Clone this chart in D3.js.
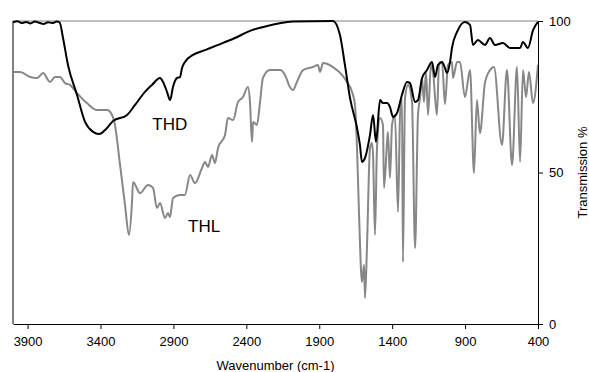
<!DOCTYPE html>
<html>
<head>
<meta charset="utf-8">
<script src="https://cdn.jsdelivr.net/npm/d3@7"></script>
<style>
  html, body { margin: 0; padding: 0; background: #fff; }
  svg { display: block; font-family: "Liberation Sans", Arial, sans-serif; }
</style>
</head>
<body>
<div id="chart"></div>
<script>
// wavenumber (cm-1) / transmission (%)
const thdWave = [4000, 3970, 3940, 3910, 3880, 3850, 3820, 3790, 3760, 3730, 3700, 3680,
  3657, 3623, 3561, 3506, 3451, 3410, 3355, 3314, 3218, 3163, 3095, 3047, 2992, 2971, 2944,
  2923, 2903, 2875, 2855, 2841, 2821, 2766, 2683, 2594, 2478, 2361, 2286, 2080, 1806, 1758,
  1724, 1689, 1641, 1621, 1607, 1586, 1552, 1531, 1511, 1483, 1463, 1435, 1415, 1394, 1367,
  1333, 1298, 1278, 1243, 1223, 1195, 1161, 1127, 1106, 1086, 1058, 1038, 1024, 1003, 990,
  955, 901, 866, 846, 812, 764, 729, 695, 640, 592, 523, 503, 469, 434, 400];
const thdTrans = [99.6, 99.9, 99.3, 99.7, 99.2, 99.8, 99.4, 99.0, 99.6, 99.3, 99.8, 99.5,
  94.4, 85.5, 75.6, 66.7, 63.4, 62.7, 64.7, 67.0, 69.0, 72.3, 76.6, 78.9, 81.2, 79.9, 76.6,
  73.9, 78.2, 81.2, 81.5, 84.5, 86.5, 88.8, 90.4, 92.1, 94.4, 97.0, 98.0, 99.8, 100, 95.4,
  85.5, 74.6, 64.7, 59.1, 53.5, 54.8, 62.4, 69.0, 60.1, 73.9, 72.9, 72.9, 71.6, 68.3, 69.6,
  75.6, 79.9, 79.5, 73.3, 73.9, 81.2, 83.8, 86.5, 81.5, 85.5, 86.5, 84.5, 82.8, 86.5, 91.1,
  96.4, 99.7, 98.7, 92.1, 93.7, 92.1, 94.4, 92.1, 92.7, 91.1, 91.1, 93.1, 91.1, 97.0, 99.7];

const thlWave = [4000, 3952, 3883, 3835, 3794, 3746, 3712, 3678, 3643, 3609, 3561, 3493,
  3424, 3355, 3321, 3301, 3266, 3232, 3205, 3184, 3177, 3129, 3074, 3040, 3013, 2992, 2958,
  2937, 2923, 2903, 2855, 2821, 2786, 2752, 2704, 2683, 2663, 2635, 2615, 2594, 2546, 2526,
  2491, 2457, 2423, 2389, 2375, 2361, 2354, 2327, 2306, 2286, 2238, 2169, 2135, 2101, 2080,
  2053, 2011, 1943, 1909, 1895, 1874, 1806, 1744, 1710, 1675, 1655, 1641, 1627, 1607, 1593,
  1586, 1573, 1552, 1538, 1531, 1518, 1504, 1483, 1463, 1456, 1435, 1429, 1415, 1401, 1381,
  1360, 1346, 1333, 1326, 1312, 1291, 1264, 1243, 1223, 1209, 1195, 1182, 1168, 1154, 1134,
  1120, 1093, 1079, 1058, 1038, 1017, 990, 983, 955, 935, 901, 866, 839, 819, 798, 764, 729,
  702, 647, 613, 578, 544, 523, 503, 482, 462, 434, 400];
const thlTrans = [83.2, 83.2, 81.5, 81.2, 82.8, 79.9, 81.5, 81.5, 79.5, 78.9, 76.2, 72.9,
  70.6, 70.6, 69.0, 65.7, 52.5, 39.3, 29.4, 40.3, 46.9, 43.2, 45.9, 44.9, 38.3, 39.9, 35.0,
  36.6, 35.3, 41.6, 42.6, 42.6, 49.2, 46.5, 51.5, 53.5, 51.8, 55.8, 53.1, 58.1, 62.4, 68.0,
  67.3, 73.3, 74.9, 78.2, 73.3, 60.1, 66.7, 65.7, 73.3, 81.2, 83.8, 83.8, 82.2, 78.2, 77.2,
  79.9, 83.8, 84.8, 85.5, 83.2, 86.1, 84.8, 82.2, 79.9, 76.6, 72.3, 58.1, 36.0, 13.9, 19.5,
  8.6, 25.1, 58.1, 59.7, 55.8, 29.4, 58.1, 68.0, 65.7, 44.9, 60.1, 63.4, 48.2, 65.7, 69.0,
  37.0, 69.0, 74.6, 20.5, 74.6, 78.9, 73.3, 25.1, 69.0, 74.6, 81.2, 73.3, 83.2, 69.0, 85.5,
  83.2, 69.0, 85.5, 86.5, 72.6, 85.5, 86.5, 81.2, 86.5, 86.5, 74.9, 83.8, 49.8, 73.9, 63.0, 79.5, 83.8,
  84.8, 59.1, 83.8, 52.5, 84.8, 53.5, 83.8, 74.9, 83.2, 72.9, 85.5];

const xTicks = [3900, 3400, 2900, 2400, 1900, 1400, 900, 400];
const yTicks = [0, 50, 100];
const seriesNames = ['THD', 'THL'];

const width = 589, height = 372;
const margin = { top: 21, right: 51, bottom: 48, left: 13 };

const svg = d3.select('#chart').append('svg')
  .attr('width', width)
  .attr('height', height);

const x = d3.scaleLinear().domain([4000, 400]).range([margin.left, width - margin.right]);
const y = d3.scaleLinear().domain([0, 100]).range([height - margin.bottom, margin.top]);

// frame: top and left
svg.append('line')
  .attr('x1', x(4000)).attr('x2', x(400))
  .attr('y1', y(100)).attr('y2', y(100))
  .attr('stroke', '#808080').attr('stroke-width', 1);
svg.append('line')
  .attr('x1', x(4000)).attr('x2', x(4000))
  .attr('y1', y(100)).attr('y2', y(0))
  .attr('stroke', '#000').attr('stroke-width', 1);

const thd = thdWave.map((w, i) => ({ w: w, t: thdTrans[i] }));
const thl = thlWave.map((w, i) => ({ w: w, t: thlTrans[i] }));

const line = d3.line()
  .x(d => x(d.w))
  .y(d => y(d.t))
  .curve(d3.curveMonotoneX);

svg.append('path')
  .datum(thl)
  .attr('d', line)
  .attr('fill', 'none')
  .attr('stroke', '#878787')
  .attr('stroke-width', 2)
  .attr('stroke-linejoin', 'round');

svg.append('path')
  .datum(thd)
  .attr('d', line)
  .attr('fill', 'none')
  .attr('stroke', '#000')
  .attr('stroke-width', 2)
  .attr('stroke-linejoin', 'round');

// axes
const xAxis = svg.append('g')
  .attr('transform', `translate(0,${y(0)})`)
  .call(d3.axisBottom(x).tickValues(xTicks).tickFormat(d3.format('d'))
    .tickSizeInner(5).tickSizeOuter(0).tickPadding(8));

const yAxis = svg.append('g')
  .attr('transform', `translate(${x(400)},0)`)
  .call(d3.axisRight(y).tickValues(yTicks).tickFormat(d3.format('d'))
    .tickSizeInner(5).tickSizeOuter(0).tickPadding(6));

[xAxis, yAxis].forEach(g => {
  g.select('.domain').attr('stroke', '#000').attr('stroke-width', 1);
  g.selectAll('.tick line').attr('stroke', '#000');
  g.selectAll('text')
    .attr('font-family', '"Liberation Sans", Arial, sans-serif')
    .attr('font-size', 13)
    .attr('fill', '#000');
});

svg.append('text')
  .attr('x', (x(4000) + x(400)) / 2)
  .attr('y', 370)
  .attr('text-anchor', 'middle')
  .attr('font-size', 13)
  .text('Wavenumber (cm-1)');

svg.append('text')
  .attr('transform', `translate(587,${(y(0) + y(100)) / 2}) rotate(-90)`)
  .attr('text-anchor', 'middle')
  .attr('font-size', 13)
  .text('Transmission %');

// series labels
svg.append('text')
  .attr('x', x(3045)).attr('y', y(64))
  .attr('font-size', 17)
  .text(seriesNames[0]);

svg.append('text')
  .attr('x', x(2800)).attr('y', y(30.5))
  .attr('font-size', 17)
  .text(seriesNames[1]);
</script>
</body>
</html>
